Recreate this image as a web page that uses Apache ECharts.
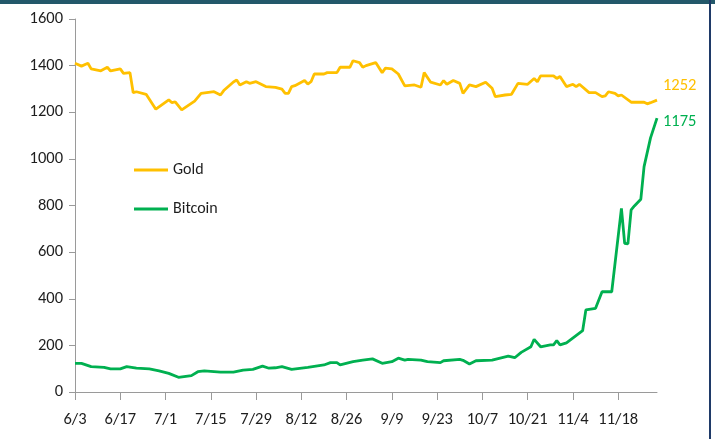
<!DOCTYPE html>
<html>
<head>
<meta charset="utf-8">
<script src="https://cdn.jsdelivr.net/npm/echarts@6/dist/echarts.min.js"></script>
<style>
	html, body { margin: 0; padding: 0; background: #fff; }
	#chart { width: 715px; height: 439px; }
</style>
</head>
<body>
<div id="chart"></div>
<script>
// x positions are days counted from 6/3
const tickLabels = ['6/3', '6/17', '7/1', '7/15', '7/29', '8/12', '8/26', '9/9', '9/23', '10/7', '10/21', '11/4', '11/18'];

const goldDays = [0, 2, 4, 5, 8, 10, 11, 14, 15, 17, 18, 19, 22, 25, 29, 30, 31, 33, 37, 39, 43, 45, 46, 49, 50, 51, 53, 54, 56, 59, 62, 64, 65, 66, 67, 68, 71, 72, 73, 74, 77, 78, 81, 82, 85, 86, 88, 89, 90, 93, 95, 96, 98, 100, 102, 105, 107, 108, 110, 113, 114, 115, 117, 119, 120, 122, 124, 127, 129, 130, 133, 135, 137, 140, 142, 143, 144, 148, 149, 150, 152, 154, 155, 156, 159, 161, 163, 164, 165, 167, 168, 169, 172, 176, 177, 178, 180];
const goldValues = [1410, 1398, 1410, 1386, 1378, 1393, 1377, 1386, 1367, 1370, 1284, 1288, 1277, 1213, 1253, 1241, 1245, 1210, 1248, 1281, 1288, 1274, 1293, 1330, 1338, 1317, 1331, 1324, 1331, 1310, 1307, 1299, 1281, 1281, 1310, 1314, 1336, 1321, 1331, 1364, 1364, 1370, 1370, 1393, 1393, 1421, 1413, 1393, 1400, 1413, 1370, 1389, 1386, 1364, 1313, 1317, 1307, 1370, 1329, 1317, 1336, 1320, 1336, 1324, 1281, 1317, 1310, 1329, 1303, 1267, 1274, 1277, 1324, 1320, 1345, 1331, 1356, 1356, 1345, 1353, 1310, 1320, 1310, 1320, 1284, 1284, 1267, 1270, 1288, 1281, 1270, 1274, 1243, 1243, 1236, 1241, 1252];

const btcDays = [0, 2, 5, 9, 11, 14, 16, 19, 23, 26, 29, 32, 36, 38, 40, 45, 49, 52, 55, 58, 60, 62, 64, 67, 72, 77, 79, 81, 82, 86, 89, 92, 95, 98, 100, 102, 103, 107, 109, 113, 114, 119, 120, 122, 124, 129, 134, 136, 138, 141, 142, 144, 147, 148, 149, 150, 152, 157, 158, 161, 163, 166, 169, 170, 171, 172, 173, 175, 176, 178, 180];
const btcValues = [123, 123, 109, 106, 99, 99, 109, 102, 99, 91, 80, 63, 70, 87, 91, 85, 85, 94, 97, 111, 102, 104, 109, 97, 106, 116, 126, 126, 116, 130, 137, 142, 123, 130, 145, 137, 140, 137, 130, 126, 134, 140, 136, 120, 134, 137, 154, 147, 170, 194, 226, 194, 202, 202, 220, 202, 211, 263, 352, 359, 430, 430, 788, 638, 635, 781, 798, 827, 967, 1090, 1175];

const goldColor = '#FFC000';
const btcColor = '#00B050';
const fontFamily = 'Carlito, Calibri, "Liberation Sans", sans-serif';

function zip(xs, ys) {
	return xs.map((x, i) => [x, ys[i]]);
}

var chartDom = document.getElementById('chart');
var myChart = echarts.init(chartDom);
var option;
option = {
	animation: false,
	backgroundColor: '#fff',
	grid: {
		left: 75,
		right: 58,
		top: 19,
		bottom: 47,
	},
	legend: {
		orient: 'vertical',
		left: 129,
		top: 157,
		itemWidth: 34,
		itemHeight: 3,
		itemGap: 23,
		icon: 'rect',
		textStyle: {
			fontFamily: fontFamily,
			fontSize: 16,
			color: '#1e1e1e',
		},
		data: ['Gold', 'Bitcoin'],
	},
	xAxis: {
		type: 'value',
		min: 0,
		max: 180,
		interval: 14,
		splitLine: { show: false },
		axisLine: { lineStyle: { color: '#9a9a9a', width: 1 } },
		axisTick: { show: true, length: 8, lineStyle: { color: '#9a9a9a' } },
		axisLabel: {
			margin: 19,
			fontFamily: fontFamily,
			fontSize: 16.5,
			color: '#1e1e1e',
			showMaxLabel: false,
			formatter: (v) => tickLabels[v / 14] || '',
		},
	},
	yAxis: {
		type: 'value',
		min: 0,
		max: 1600,
		interval: 200,
		splitLine: { show: false },
		axisLine: { show: true, lineStyle: { color: '#9a9a9a', width: 1 } },
		axisTick: { show: true, length: 6, lineStyle: { color: '#9a9a9a' } },
		axisLabel: {
			margin: 12,
			fontFamily: fontFamily,
			fontSize: 16.5,
			color: '#1e1e1e',
			formatter: (v) => String(v),
		},
	},
	series: [
		{
			name: 'Gold',
			type: 'line',
			data: zip(goldDays, goldValues),
			showSymbol: false,
			lineStyle: { color: goldColor, width: 2.8 },
			itemStyle: { color: goldColor },
			endLabel: {
				show: true,
				distance: 6,
				offset: [0, -14],
				fontFamily: fontFamily,
				fontSize: 16.5,
				color: goldColor,
				formatter: (p) => p.value[1],
			},
		},
		{
			name: 'Bitcoin',
			type: 'line',
			data: zip(btcDays, btcValues),
			showSymbol: false,
			lineStyle: { color: btcColor, width: 2.8 },
			itemStyle: { color: btcColor },
			endLabel: {
				show: true,
				distance: 6,
				offset: [0, 4],
				fontFamily: fontFamily,
				fontSize: 16.5,
				color: btcColor,
				formatter: (p) => p.value[1],
			},
		},
	],
	graphic: [
		// window frame bits seen in the screenshot
		{ type: 'rect', left: 0, top: 0, shape: { width: 715, height: 4 }, style: { fill: '#23586a' } },
		{ type: 'rect', left: 709, top: 0, shape: { width: 2, height: 439 }, style: { fill: '#1f3a68' } },
	],
};
option && myChart.setOption(option);
</script>
</body>
</html>
